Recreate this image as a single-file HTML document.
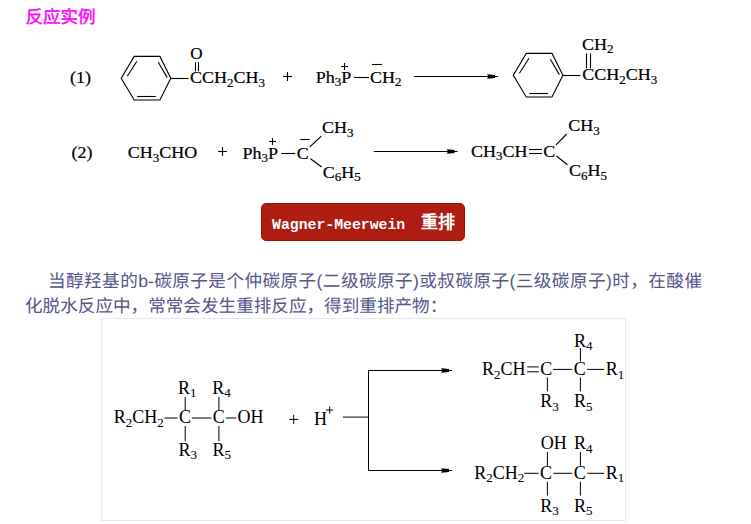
<!DOCTYPE html>
<html lang="zh-CN"><head><meta charset="utf-8">
<style>
html,body{margin:0;padding:0;background:#fff;}
body{width:751px;height:524px;position:relative;overflow:hidden;font-family:"Liberation Sans",sans-serif;}
.title{position:absolute;left:25.5px;top:6.8px;font-size:17.5px;color:#ff00ff;line-height:20px;-webkit-text-stroke:0.45px #ff00ff;text-rendering:geometricPrecision;}
svg{position:absolute;left:0;top:0;}
.btn{position:absolute;left:261px;top:203px;width:202px;height:36px;background:#ad1d12;border:1px solid #a30f02;border-radius:5px;color:#fff;}
.btn .en{position:absolute;left:10px;top:11.5px;font-family:"Liberation Mono",monospace;font-weight:bold;font-size:14.8px;line-height:18px;}
.btn .zh{position:absolute;left:159px;top:9px;font-weight:bold;font-size:17px;line-height:20px;}
.para{position:absolute;left:25px;top:269px;width:677px;font-size:17.6px;line-height:25.2px;color:#55558b;text-rendering:geometricPrecision;}
.para .l1{white-space:nowrap;text-align:justify;text-align-last:justify;padding-left:23px;}
.para .l2{white-space:nowrap;}
.box{position:absolute;left:101px;top:318px;width:523px;height:201px;border:1px solid #e8e8e8;}
</style></head><body>
<div class="title">反应实例</div>
<div class="btn"><span class="en">Wagner-Meerwein</span><span class="zh">重排</span></div>
<div class="para"><div class="l1">当醇羟基的b-碳原子是个仲碳原子(二级碳原子)或叔碳原子(三级碳原子)时，在酸催</div><div class="l2">化脱水反应中，常常会发生重排反应，得到重排产物：</div></div>
<div class="box"></div>
<svg width="751" height="524" viewBox="0 0 751 524" font-family="Liberation Serif" fill="#000" stroke="#000">
<polygon points="121.20,78.30 134.20,56.40 159.90,56.40 170.80,78.30 159.90,100.00 134.20,100.00" fill="none" stroke="#000" stroke-width="1.1"/><line x1="127.3" y1="76.2" x2="136.9" y2="61.2" stroke="#000" stroke-width="1.1"/><line x1="158.3" y1="62.3" x2="167.2" y2="77.6" stroke="#000" stroke-width="1.1"/><line x1="137.2" y1="96.5" x2="155.8" y2="96.5" stroke="#000" stroke-width="1.1"/>
<line x1="170.8" y1="78.5" x2="188.6" y2="78.5" stroke="#000" stroke-width="1.1"/>
<line x1="195.5" y1="62.2" x2="195.5" y2="71.4" stroke="#000" stroke-width="1.1"/>
<line x1="198.5" y1="62.2" x2="198.5" y2="71.4" stroke="#000" stroke-width="1.1"/>
<text x="70.01" y="83" font-size="18" stroke-width="0.22" transform="translate(0,2.490) scale(1,0.97)">(1)</text>
<text x="190.06" y="83.4" font-size="18" stroke-width="0.22" transform="translate(0,2.502) scale(1,0.97)">CCH<tspan font-size="13" dy="3.4">2</tspan><tspan dy="-3.4">CH</tspan><tspan font-size="13" dy="3.4">3</tspan></text>
<text x="190.30" y="58.6" font-size="17" stroke-width="0.22">O</text>
<line x1="283.0" y1="76.5" x2="292.0" y2="76.5" stroke="#000" stroke-width="1.1"/><line x1="287.5" y1="72.0" x2="287.5" y2="81.0" stroke="#000" stroke-width="1.1"/>
<text x="315.78" y="82.9" font-size="18" stroke-width="0.22" transform="translate(0,2.487) scale(1,0.97)">Ph<tspan font-size="13" dy="3.4">3</tspan><tspan dy="-3.4">P</tspan></text>
<line x1="341.0" y1="66.5" x2="348.0" y2="66.5" stroke="#000" stroke-width="1.1"/><line x1="344.5" y1="63.0" x2="344.5" y2="70.0" stroke="#000" stroke-width="1.1"/>
<line x1="354" y1="77.5" x2="369" y2="77.5" stroke="#000" stroke-width="1.1"/>
<text x="369.96" y="83" font-size="18" stroke-width="0.22" transform="translate(0,2.490) scale(1,0.97)">CH<tspan font-size="13" dy="3.4">2</tspan></text>
<line x1="372" y1="64.5" x2="382" y2="64.5" stroke="#000" stroke-width="1.1"/>
<line x1="414" y1="76.5" x2="492" y2="76.5" stroke="#000" stroke-width="1.2"/>
<polygon points="487.00,74.20 490.00,74.60 495.00,75.10 495.00,75.90 498.00,76.00 498.00,77.00 495.00,77.10 495.00,77.90 490.00,78.40 487.00,78.80 488.50,76.50" fill="#000" stroke="none"/>
<polygon points="513.30,75.30 526.30,53.40 552.00,53.40 562.90,75.30 552.00,97.00 526.30,97.00" fill="none" stroke="#000" stroke-width="1.1"/><line x1="519.4" y1="73.2" x2="529.0" y2="58.2" stroke="#000" stroke-width="1.1"/><line x1="550.4" y1="59.3" x2="559.3" y2="74.6" stroke="#000" stroke-width="1.1"/><line x1="529.3" y1="93.5" x2="547.9" y2="93.5" stroke="#000" stroke-width="1.1"/>
<line x1="562.7" y1="75.5" x2="580.4" y2="75.5" stroke="#000" stroke-width="1.1"/>
<line x1="586.5" y1="53.4" x2="586.5" y2="68.4" stroke="#000" stroke-width="1.1"/>
<line x1="590.5" y1="53.4" x2="590.5" y2="68.4" stroke="#000" stroke-width="1.1"/>
<text x="582.06" y="49.8" font-size="18" stroke-width="0.22" transform="translate(0,1.494) scale(1,0.97)">CH<tspan font-size="13" dy="3.4">2</tspan></text>
<text x="582.36" y="80.5" font-size="18" stroke-width="0.22" transform="translate(0,2.415) scale(1,0.97)">CCH<tspan font-size="13" dy="3.4">2</tspan><tspan dy="-3.4">CH</tspan><tspan font-size="13" dy="3.4">3</tspan></text>
<text x="71.61" y="157.9" font-size="18" stroke-width="0.22" transform="translate(0,4.737) scale(1,0.97)">(2)</text>
<text x="127.86" y="158.3" font-size="18" stroke-width="0.22" transform="translate(0,4.749) scale(1,0.97)">CH<tspan font-size="13" dy="3.4">3</tspan><tspan dy="-3.4">CHO</tspan></text>
<line x1="218.1" y1="151.5" x2="226.9" y2="151.5" stroke="#000" stroke-width="1.1"/><line x1="222.5" y1="147.1" x2="222.5" y2="155.9" stroke="#000" stroke-width="1.1"/>
<text x="242.48" y="158.8" font-size="18" stroke-width="0.22" transform="translate(0,4.764) scale(1,0.97)">Ph<tspan font-size="13" dy="3.4">3</tspan><tspan dy="-3.4">P</tspan></text>
<line x1="269.1" y1="141.5" x2="275.9" y2="141.5" stroke="#000" stroke-width="1.1"/><line x1="272.5" y1="138.1" x2="272.5" y2="144.9" stroke="#000" stroke-width="1.1"/>
<line x1="281.2" y1="153.5" x2="295.2" y2="153.5" stroke="#000" stroke-width="1.1"/>
<text x="296.76" y="158.8" font-size="18" stroke-width="0.22" transform="translate(0,4.764) scale(1,0.97)">C</text>
<line x1="300.3" y1="139.5" x2="309.6" y2="139.5" stroke="#000" stroke-width="1.1"/>
<line x1="309.8" y1="146.9" x2="321.3" y2="136.1" stroke="#000" stroke-width="1.2"/>
<line x1="310.5" y1="158.8" x2="321.7" y2="166.9" stroke="#000" stroke-width="1.2"/>
<text x="321.96" y="133.3" font-size="18" stroke-width="0.22" transform="translate(0,3.999) scale(1,0.97)">CH<tspan font-size="13" dy="3.4">3</tspan></text>
<text x="322.86" y="178" font-size="18" stroke-width="0.22" transform="translate(0,5.340) scale(1,0.97)">C<tspan font-size="13" dy="3.4">6</tspan><tspan dy="-3.4">H</tspan><tspan font-size="13" dy="3.4">5</tspan></text>
<line x1="373.8" y1="151.5" x2="452" y2="151.5" stroke="#000" stroke-width="1.2"/>
<polygon points="446.60,149.20 449.60,149.60 454.60,150.10 454.60,150.90 457.60,151.00 457.60,152.00 454.60,152.10 454.60,152.90 449.60,153.40 446.60,153.80 448.10,151.50" fill="#000" stroke="none"/>
<text x="470.96" y="156.9" font-size="18" stroke-width="0.22" transform="translate(0,4.707) scale(1,0.97)">CH<tspan font-size="13" dy="3.4">3</tspan><tspan dy="-3.4">CH</tspan></text>
<line x1="529" y1="149.5" x2="542" y2="149.5" stroke="#000" stroke-width="1.1"/>
<line x1="529" y1="153.5" x2="542" y2="153.5" stroke="#000" stroke-width="1.1"/>
<text x="543.26" y="156.8" font-size="18" stroke-width="0.22" transform="translate(0,4.704) scale(1,0.97)">C</text>
<line x1="556" y1="144.8" x2="566.7" y2="134" stroke="#000" stroke-width="1.1"/>
<line x1="556.4" y1="156" x2="567.5" y2="164.8" stroke="#000" stroke-width="1.1"/>
<text x="568.26" y="131.3" font-size="18" stroke-width="0.22" transform="translate(0,3.939) scale(1,0.97)">CH<tspan font-size="13" dy="3.4">3</tspan></text>
<text x="568.96" y="176.5" font-size="18" stroke-width="0.22" transform="translate(0,5.295) scale(1,0.97)">C<tspan font-size="13" dy="3.4">6</tspan><tspan dy="-3.4">H</tspan><tspan font-size="13" dy="3.4">5</tspan></text>
<text x="113.78" y="423.2" font-size="18" stroke-width="0.05">R<tspan font-size="13" dy="3.5">2</tspan><tspan dy="-3.5">CH</tspan><tspan font-size="13" dy="3.5">2</tspan></text>
<line x1="164.3" y1="418" x2="177.6" y2="418" stroke="#000" stroke-width="1.0"/>
<text x="179.06" y="423.2" font-size="18" stroke-width="0.05">C</text>
<line x1="191.9" y1="418" x2="211.4" y2="418" stroke="#000" stroke-width="1.0"/>
<text x="212.76" y="423.2" font-size="18" stroke-width="0.05">C</text>
<line x1="226" y1="418" x2="236.1" y2="418" stroke="#000" stroke-width="1.0"/>
<text x="237.56" y="423.2" font-size="18" stroke-width="0.05">OH</text>
<text x="178.08" y="393.6" font-size="18" stroke-width="0.05">R<tspan font-size="13" dy="3.5">1</tspan></text>
<text x="212.18" y="393.6" font-size="18" stroke-width="0.05">R<tspan font-size="13" dy="3.5">4</tspan></text>
<line x1="185.2" y1="396.9" x2="185.2" y2="410.4" stroke="#000" stroke-width="1.0"/>
<line x1="218.9" y1="396.9" x2="218.9" y2="410.4" stroke="#000" stroke-width="1.0"/>
<line x1="185.2" y1="426" x2="185.2" y2="441.3" stroke="#000" stroke-width="1.0"/>
<line x1="218.9" y1="426" x2="218.9" y2="441.3" stroke="#000" stroke-width="1.0"/>
<text x="178.48" y="455.5" font-size="18" stroke-width="0.05">R<tspan font-size="13" dy="3.5">3</tspan></text>
<text x="212.48" y="455.5" font-size="18" stroke-width="0.05">R<tspan font-size="13" dy="3.5">5</tspan></text>
<line x1="289.09999999999997" y1="419.4" x2="298.3" y2="419.4" stroke="#000" stroke-width="1.0"/><line x1="293.7" y1="414.79999999999995" x2="293.7" y2="424.0" stroke="#000" stroke-width="1.0"/>
<text x="313.98" y="425.3" font-size="18" stroke-width="0.05">H</text>
<line x1="326.09999999999997" y1="410" x2="333.3" y2="410" stroke="#000" stroke-width="1.0"/><line x1="329.7" y1="406.4" x2="329.7" y2="413.6" stroke="#000" stroke-width="1.0"/>
<line x1="343" y1="417.1" x2="368" y2="417.1" stroke="#000" stroke-width="1.0"/>
<polyline points="445,370.5 368.5,370.5 368.5,470.5 445,470.5" fill="none" stroke="#000" stroke-width="1"/>
<polygon points="441.00,368.20 444.00,368.60 449.00,369.10 449.00,369.90 452.00,370.00 452.00,371.00 449.00,371.10 449.00,371.90 444.00,372.40 441.00,372.80 442.50,370.50" fill="#000" stroke="none"/>
<polygon points="441.00,468.20 444.00,468.60 449.00,469.10 449.00,469.90 452.00,470.00 452.00,471.00 449.00,471.10 449.00,471.90 444.00,472.40 441.00,472.80 442.50,470.50" fill="#000" stroke="none"/>
<text x="481.98" y="375" font-size="18" stroke-width="0.05">R<tspan font-size="13" dy="3.5">2</tspan><tspan dy="-3.5">CH</tspan></text>
<line x1="527.2" y1="366.9" x2="538.7" y2="366.9" stroke="#000" stroke-width="1.0"/>
<line x1="527.2" y1="371.8" x2="538.7" y2="371.8" stroke="#000" stroke-width="1.0"/>
<text x="540.26" y="375" font-size="18" stroke-width="0.05">C</text>
<line x1="553.1" y1="369.4" x2="572.3" y2="369.4" stroke="#000" stroke-width="1.0"/>
<text x="573.66" y="375" font-size="18" stroke-width="0.05">C</text>
<line x1="587.2" y1="369.4" x2="604.2" y2="369.4" stroke="#000" stroke-width="1.0"/>
<text x="605.78" y="375" font-size="18" stroke-width="0.05">R<tspan font-size="13" dy="3.5">1</tspan></text>
<text x="573.88" y="346.6" font-size="18" stroke-width="0.05">R<tspan font-size="13" dy="3.5">4</tspan></text>
<line x1="580.4" y1="348" x2="580.4" y2="361.5" stroke="#000" stroke-width="1.0"/>
<line x1="547.4" y1="377.5" x2="547.4" y2="391.4" stroke="#000" stroke-width="1.0"/>
<line x1="580.4" y1="377.5" x2="580.4" y2="391.4" stroke="#000" stroke-width="1.0"/>
<text x="540.18" y="407.3" font-size="18" stroke-width="0.05">R<tspan font-size="13" dy="3.5">3</tspan></text>
<text x="573.88" y="407.3" font-size="18" stroke-width="0.05">R<tspan font-size="13" dy="3.5">5</tspan></text>
<text x="474.18" y="478.6" font-size="18" stroke-width="0.05">R<tspan font-size="13" dy="3.5">2</tspan><tspan dy="-3.5">CH</tspan><tspan font-size="13" dy="3.5">2</tspan></text>
<line x1="524.3" y1="473.3" x2="538.6" y2="473.3" stroke="#000" stroke-width="1.0"/>
<text x="539.96" y="478.6" font-size="18" stroke-width="0.05">C</text>
<line x1="553.5" y1="473.3" x2="572.3" y2="473.3" stroke="#000" stroke-width="1.0"/>
<text x="573.66" y="478.6" font-size="18" stroke-width="0.05">C</text>
<line x1="587.2" y1="473.3" x2="604.2" y2="473.3" stroke="#000" stroke-width="1.0"/>
<text x="605.78" y="478.6" font-size="18" stroke-width="0.05">R<tspan font-size="13" dy="3.5">1</tspan></text>
<text x="540.66" y="449.2" font-size="18" stroke-width="0.05">OH</text>
<text x="573.88" y="449.2" font-size="18" stroke-width="0.05">R<tspan font-size="13" dy="3.5">4</tspan></text>
<line x1="547.4" y1="452" x2="547.4" y2="465.8" stroke="#000" stroke-width="1.0"/>
<line x1="580.4" y1="452" x2="580.4" y2="465.8" stroke="#000" stroke-width="1.0"/>
<line x1="547.4" y1="481.8" x2="547.4" y2="495.6" stroke="#000" stroke-width="1.0"/>
<line x1="580.4" y1="481.8" x2="580.4" y2="495.6" stroke="#000" stroke-width="1.0"/>
<text x="540.18" y="511.6" font-size="18" stroke-width="0.05">R<tspan font-size="13" dy="3.5">3</tspan></text>
<text x="573.88" y="511.6" font-size="18" stroke-width="0.05">R<tspan font-size="13" dy="3.5">5</tspan></text>
</svg>
</body></html>
